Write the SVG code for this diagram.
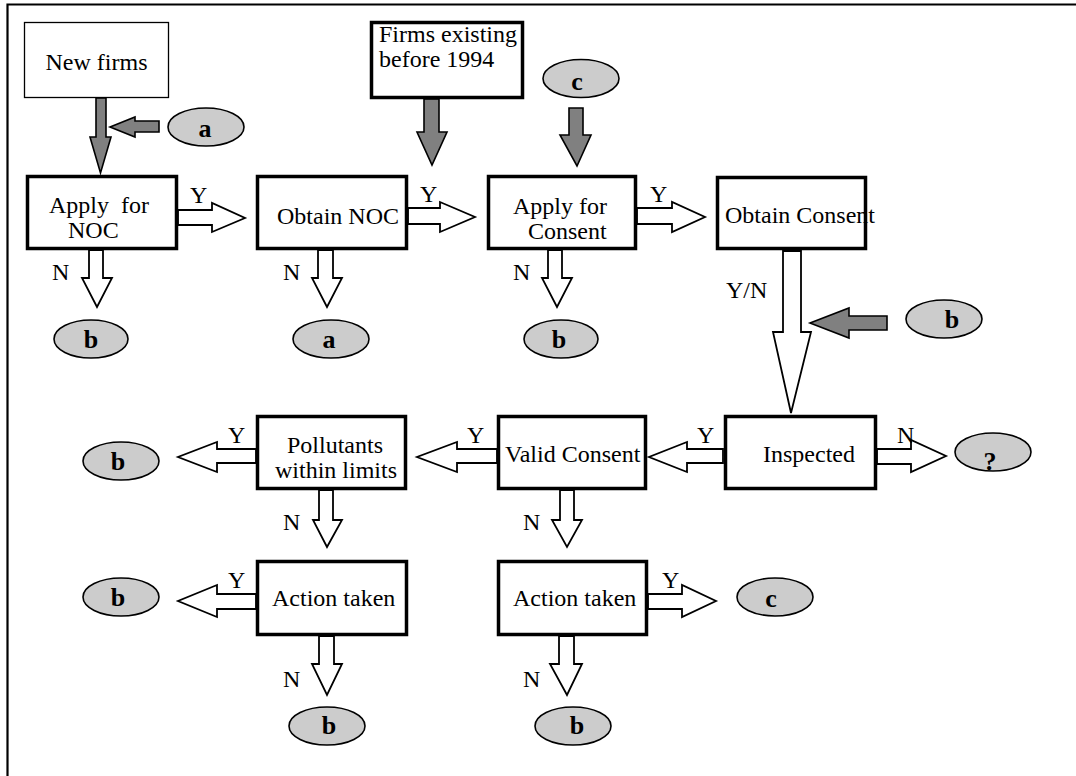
<svg xmlns="http://www.w3.org/2000/svg" width="1076" height="776" viewBox="0 0 1076 776">
<style>
.box{fill:#fff;stroke:#000;stroke-width:3.5}
.thin{fill:#fff;stroke:#000;stroke-width:1.3}
.t{font-family:"Liberation Serif","Times New Roman",serif;font-size:24px;fill:#000}
.lbl{font-family:"Liberation Serif","Times New Roman",serif;font-size:24px;fill:#000}
.el{fill:#cccccc;stroke:#000;stroke-width:1.6}
.et{font-family:"Liberation Serif","Times New Roman",serif;font-size:26px;font-weight:bold;fill:#000;text-anchor:middle}
.ha{fill:#fff;stroke:#000;stroke-width:1.8;stroke-linejoin:miter}
.ga{fill:#808080;stroke:#000;stroke-width:1.6}
</style>
<rect width="1076" height="776" fill="#fff"/>
<path d="M7.5,780 V4.5 H1080" fill="none" stroke="#000" stroke-width="2.2"/>

<g id="connectors">
  <polygon class="ga" points="96,98 106,98 106,137 111,137 100.5,173 90,137 96,137"/>
  <polygon class="ga" points="159,121 135,121 135,117 110,127 135,137 135,132 159,132"/>
  <polygon class="ga" points="424,99 439,99 439,132 447,132 432,165 417,132 424,132"/>
  <polygon class="ga" points="569,108 583,108 583,135 591,135 577,166 560,135 569,135"/>
  <polygon class="ga" points="887,316 849,316 849,308 810,323 849,338 849,330 887,330"/>

  <polygon class="ha" points="178,210 212,210 212,203 245,218 212,232 212,225 178,225"/>
  <polygon class="ha" points="408,208 440,208 440,202 475,217 440,232 440,224 408,224"/>
  <polygon class="ha" points="637,208 672,208 672,202 705,217 672,232 672,224 637,224"/>

  <polygon class="ha" points="89,250 103,250 103,278 112,278 97,307 82,278 89,278"/>
  <polygon class="ha" points="318,250 333,250 333,278 342,278 327,307 312,278 318,278"/>
  <polygon class="ha" points="548,250 562,250 562,278 572,278 557,307 542,278 548,278"/>

  <polygon class="ha" points="783,251 801,251 801,332 811,332 791,413 773,332 783,332"/>

  <polygon class="ha" points="877,449 911,449 911,440 946,456 911,472 911,464 877,464"/>
  <polygon class="ha" points="723,449 687,449 687,442 649,457 687,472 687,463 723,463"/>
  <polygon class="ha" points="497,449 457,449 457,442 417,457 457,472 457,463 497,463"/>
  <polygon class="ha" points="256,449 217,449 217,442 178,457 217,472 217,463 256,463"/>

  <polygon class="ha" points="319,490 333,490 333,520 342,520 327,547 313,520 319,520"/>
  <polygon class="ha" points="560,490 574,490 574,520 582,520 567,547 552,520 560,520"/>

  <polygon class="ha" points="256,594 217,594 217,585 178,601 217,617 217,609 256,609"/>
  <polygon class="ha" points="648,594 682,594 682,585 716,601 682,617 682,609 648,609"/>

  <polygon class="ha" points="319,636 334,636 334,664 342,664 327,695 312,664 319,664"/>
  <polygon class="ha" points="559,636 574,636 574,664 582,664 567,695 550,664 559,664"/>

  <text class="lbl" x="190" y="203">Y</text>
  <text class="lbl" x="420" y="202">Y</text>
  <text class="lbl" x="650" y="202">Y</text>
  <text class="lbl" x="52" y="280">N</text>
  <text class="lbl" x="283" y="280">N</text>
  <text class="lbl" x="513" y="280">N</text>
  <text class="lbl" x="726" y="298">Y/N</text>
  <text class="lbl" x="897" y="443">N</text>
  <text class="lbl" x="697" y="443">Y</text>
  <text class="lbl" x="467" y="443">Y</text>
  <text class="lbl" x="228" y="443">Y</text>
  <text class="lbl" x="283" y="530">N</text>
  <text class="lbl" x="523" y="530">N</text>
  <text class="lbl" x="228" y="588">Y</text>
  <text class="lbl" x="662" y="588">Y</text>
  <text class="lbl" x="283" y="687">N</text>
  <text class="lbl" x="523" y="687">N</text>
</g>

<g id="new-firms"><rect class="thin" x="24.5" y="22.5" width="144" height="75"/><text class="t" x="96.5" y="70" text-anchor="middle">New firms</text></g>
<g id="firms-existing"><rect class="box" x="371.5" y="22.5" width="151" height="75"/><text class="t" x="379" y="42">Firms existing</text><text class="t" x="379" y="67">before 1994</text></g>
<g id="apply-noc"><rect class="box" x="27.5" y="176.5" width="149" height="72"/><text class="t" x="49" y="213" xml:space="preserve">Apply  for</text><text class="t" x="68" y="238">NOC</text></g>
<g id="obtain-noc"><rect class="box" x="257.5" y="176.5" width="149" height="72"/><text class="t" x="277" y="224">Obtain NOC</text></g>
<g id="apply-consent"><rect class="box" x="488.5" y="176.5" width="147" height="72"/><text class="t" x="513" y="214">Apply for</text><text class="t" x="528" y="239">Consent</text></g>
<g id="obtain-consent"><rect class="box" x="717.5" y="177.5" width="148" height="71"/><text class="t" x="725" y="223">Obtain Consent</text></g>
<g id="pollutants"><rect class="box" x="257.5" y="416.5" width="148" height="72"/><text class="t" x="287" y="453">Pollutants</text><text class="t" x="275" y="478">within limits</text></g>
<g id="valid-consent"><rect class="box" x="498.5" y="416.5" width="147" height="72"/><text class="t" x="505" y="462">Valid Consent</text></g>
<g id="inspected"><rect class="box" x="725.5" y="416.5" width="150" height="72"/><text class="t" x="763" y="462">Inspected</text></g>
<g id="action-left"><rect class="box" x="257.5" y="561.5" width="149" height="73"/><text class="t" x="272" y="606">Action taken</text></g>
<g id="action-right"><rect class="box" x="498.5" y="561.5" width="148" height="73"/><text class="t" x="513" y="606">Action taken</text></g>

<g id="a1"><ellipse class="el" cx="206" cy="127" rx="38" ry="19"/><text class="et" x="205" y="137">a</text></g>
<g id="c1"><ellipse class="el" cx="581" cy="78.5" rx="38" ry="19"/><text class="et" x="577" y="90">c</text></g>
<g id="b1"><ellipse class="el" cx="91" cy="339" rx="37" ry="19"/><text class="et" x="91" y="348">b</text></g>
<g id="a2"><ellipse class="el" cx="331" cy="339" rx="38" ry="19"/><text class="et" x="329" y="348">a</text></g>
<g id="b2"><ellipse class="el" cx="561" cy="339" rx="37" ry="19"/><text class="et" x="559" y="348">b</text></g>
<g id="b3"><ellipse class="el" cx="944" cy="319" rx="38" ry="19"/><text class="et" x="952" y="328">b</text></g>
<g id="q"><ellipse class="el" cx="993" cy="452" rx="38" ry="19"/><text class="et" x="990" y="470">?</text></g>
<g id="b4"><ellipse class="el" cx="121" cy="461" rx="38" ry="19"/><text class="et" x="118" y="470">b</text></g>
<g id="b5"><ellipse class="el" cx="121" cy="597" rx="38" ry="19"/><text class="et" x="118" y="606">b</text></g>
<g id="c2"><ellipse class="el" cx="775" cy="597" rx="38" ry="19"/><text class="et" x="771" y="607">c</text></g>
<g id="b6"><ellipse class="el" cx="327" cy="726" rx="38" ry="19"/><text class="et" x="329" y="734">b</text></g>
<g id="b7"><ellipse class="el" cx="573" cy="726" rx="38" ry="19"/><text class="et" x="577" y="734">b</text></g>
</svg>
